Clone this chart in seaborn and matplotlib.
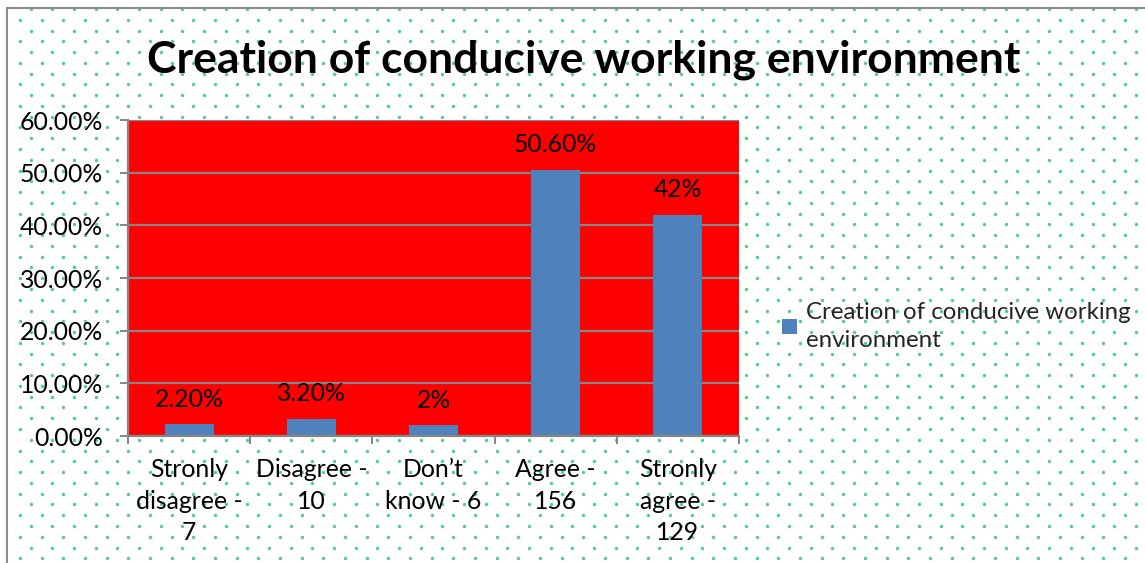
import numpy as np
import pandas as pd
import matplotlib
matplotlib.use("Agg")
import matplotlib.pyplot as plt
from matplotlib.ticker import FuncFormatter, MultipleLocator, FixedLocator
import seaborn as sns

# Survey responses
categories = ["Stronly\ndisagree -\n7", "Disagree -\n10", "Don\u2019t\nknow - 6",
              "Agree -\n156", "Stronly\nagree -\n129"]
shares = [2.2, 3.2, 2.0, 50.6, 42.0]
value_labels = ["2.20%", "3.20%", "2%", "50.60%", "42%"]
series_name = "Creation of conducive working environment"
legend_label = "Creation of conducive working\nenvironment"
title = "Creation of conducive working environment"

df = pd.DataFrame({"category": categories, "share": shares, "series": series_name})

sns.set_theme(style="white")
plt.rcParams["font.family"] = ["Lato", "DejaVu Sans"]

FS = 17.8
W, H = 1145, 563
fig = plt.figure(figsize=(W / 100, H / 100), dpi=100)
fig.patch.set_facecolor("white")

# Dotted chart-area background
bg = fig.add_axes([0, 0, 1, 1], zorder=0)
bg.set_xlim(0, W)
bg.set_ylim(H, 0)
bg.axis("off")
dx, dy = 21.67, 10.77
rows = np.arange(9, H + dy, dy)
xs, ys = [], []
for i, yy in enumerate(rows):
    off = 0 if i % 2 == 0 else dx / 2
    xx = np.arange(9 + off, W + dx, dx)
    xx = xx[xx > 10]
    xs.extend(xx)
    ys.extend([yy] * len(xx))
bg.scatter(xs, ys, s=6, color="#2fc876", linewidths=0, alpha=0.85)
bg.plot([7, 7], [8, H], color="#8c8c8c", lw=1.5)
bg.plot([7, W], [8, 8], color="#8c8c8c", lw=1.5)

# Plot area
ax = fig.add_axes([128 / W, 1 - 436 / H, (739 - 128) / W, (436 - 120) / H], zorder=1)
ax.set_facecolor("#ff0000")
sns.barplot(data=df, x="category", y="share", hue="series", palette=["#4f81bd"],
            width=0.4, ax=ax, saturation=1, legend=True, linewidth=0)

ax.set_ylim(0, 60)
ax.yaxis.set_major_locator(MultipleLocator(10))
ax.yaxis.set_major_formatter(FuncFormatter(lambda v, p: f"{v:.2f}%"))
ax.grid(axis="y", color="#868686", lw=1.6)
ax.set_axisbelow(True)
ax.set_xlabel("")
ax.set_ylabel("")
ax.set_xlim(-0.5, len(categories) - 0.5)

for side in ["top", "right"]:
    ax.spines[side].set_visible(False)
for side in ["left", "bottom"]:
    ax.spines[side].set_color("#868686")
    ax.spines[side].set_linewidth(1.6)

ax.tick_params(axis="y", which="major", left=True, length=6, width=1.4, color="#868686",
               labelsize=FS, labelcolor="black", pad=12)
ax.tick_params(axis="x", which="major", bottom=False, labelsize=FS, labelcolor="black", pad=10)
ax.xaxis.set_minor_locator(FixedLocator(np.arange(-0.5, len(categories), 1.0)))
ax.tick_params(axis="x", which="minor", bottom=True, length=6, width=1.4, color="#868686")
for lbl in ax.get_xticklabels():
    lbl.set_linespacing(1.45)

ax.bar_label(ax.containers[0], labels=value_labels, padding=10, fontsize=FS, color="black")

leg = ax.legend(handles=ax.get_legend_handles_labels()[0], labels=[legend_label],
                loc="upper left", bbox_to_anchor=(772 / W, 1 - 292 / H),
                bbox_transform=fig.transFigure, frameon=False, fontsize=17.3,
                handlelength=0.62, handleheight=0.62, handletextpad=0.4,
                borderaxespad=0)
for t in leg.get_texts():
    t.set_linespacing(1.45)

fig.text(584 / W, 1 - 60 / H, title, ha="center", va="center",
         fontsize=32, fontweight="bold", color="black")

fig.savefig("out.png", dpi=100)
